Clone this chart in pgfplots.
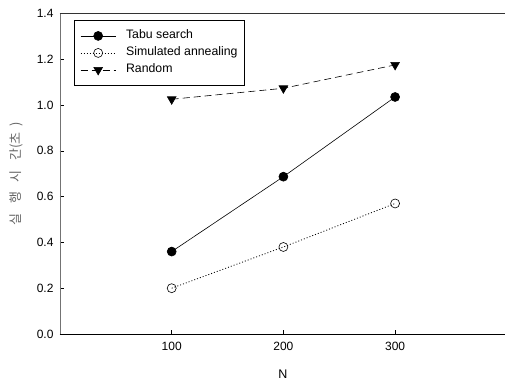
\documentclass[border=0pt]{standalone}
\usepackage{fontspec}
\setmainfont{Liberation Sans}
\newfontfamily\kr{Noto Sans CJK KR}
\usepackage{pgfplots}
\pgfplotsset{compat=1.18}
\begin{document}
\begin{tikzpicture}
\path[use as bounding box, clip] (-60pt,-49pt) rectangle (445pt,334pt);
\begin{axis}[
  at={(0,0)}, anchor=south west,
  width=446.8pt, height=320.6pt, scale only axis,
  xmin=0, xmax=400, ymin=0, ymax=1.4,
  axis x line*=bottom, axis y line*=left,
  x axis line style={black, line width=0.8pt},
  y axis line style={black!55, line width=0.9pt},
  xtick={100,200,300},
  ytick={0,0.2,0.4,0.6,0.8,1.0,1.2,1.4},
  tick align=inside, major tick length=4pt,
  tick style={black, line width=0.5pt},
  /pgf/number format/assume math mode=true,
  yticklabel style={/pgf/number format/fixed, /pgf/number format/fixed zerofill, /pgf/number format/precision=1, xshift=-3pt},
  every tick label/.append style={font=\fontsize{12}{14}\selectfont},
  xticklabel style={yshift=-5pt},
  xlabel={N},
  xlabel style={at={(axis description cs:0.499,-0.1248)}, anchor=center, font=\fontsize{12.5}{14}\selectfont},
  ylabel={\kr 실\hspace{0.75em}행\hspace{0.75em}시\hspace{0.75em}간(초\hspace{0.45em})},
  ylabel style={at={(axis description cs:-0.0974,0.5)}, anchor=center, rotate=0, text=black!60, font=\fontsize{13}{14}\selectfont},
  legend style={at={(axis description cs:0.0313,0.979)}, anchor=north west,
    draw=black, line width=0.6pt, fill=white, inner xsep=6pt, inner ysep=8.5pt,
    font=\fontsize{12.3}{14}\selectfont, row sep=3pt,
    nodes={inner sep=1pt, text height=9pt, text depth=3pt}},
  legend cell align=left,
  legend image code/.code={\draw[mark repeat=2,mark phase=2] plot coordinates {(0pt,0pt) (17.5pt,0pt) (35pt,0pt)};},
]
\addplot[black, line width=0.6pt, mark=*, mark size=4.5pt, mark options={solid, fill=black}]
  coordinates {(100,0.360) (200,0.687) (300,1.035)};
\addlegendentry{\rule{9pt}{0pt}Tabu search}
\addplot[black, line width=0.8pt, dash pattern=on 1pt off 2pt, mark=o, mark size=4.5pt, mark options={solid, fill=white, line width=0.6pt}]
  coordinates {(100,0.200) (200,0.380) (300,0.570)};
\addlegendentry{\rule{9pt}{0pt}Simulated annealing}
\addplot[black, line width=0.6pt, dash pattern=on 7pt off 4pt, mark=triangle*, mark size=5pt, mark options={solid, fill=black, rotate=180}]
  coordinates {(100,1.025) (200,1.073) (300,1.175)};
\addlegendentry{\rule{9pt}{0pt}Random}
\draw[black!80, line width=0.8pt] (rel axis cs:0,1) -- (rel axis cs:1,1);
\end{axis}
\end{tikzpicture}
\end{document}
